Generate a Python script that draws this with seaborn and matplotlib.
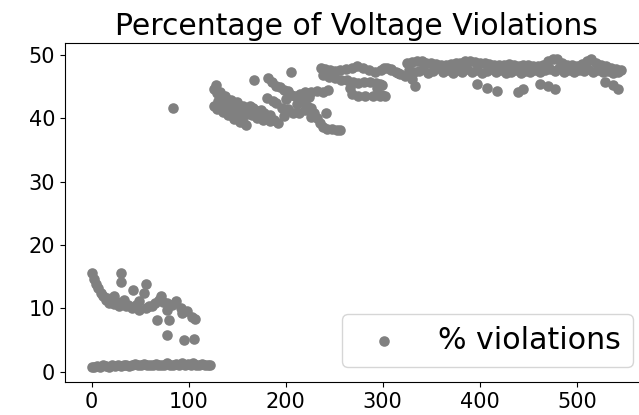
import matplotlib
matplotlib.use("Agg")
import matplotlib.pyplot as plt
import seaborn as sns
import pandas as pd

# ---- data ----
low_x = [0, 3, 6, 9, 12, 15, 18, 21, 24, 27, 30, 33, 36, 39, 42, 45, 48, 51, 54, 57,
         60, 63, 66, 69, 72, 75, 78, 81, 84, 87, 90, 93, 96, 99, 102, 105, 108, 111,
         114, 117, 120, 122]
low_y = [0.7, 0.8, 0.9, 0.8, 1.0, 0.9, 0.8, 1.0, 0.9, 1.1, 0.9, 1.0, 1.1, 0.9, 1.0, 1.2,
         1.0, 1.1, 1.2, 1.0, 1.1, 1.0, 1.2, 1.1, 1.0, 1.1, 1.3, 1.1, 1.0, 1.2, 1.1, 1.3,
         1.1, 1.2, 1.0, 1.3, 1.1, 1.0, 1.2, 1.1, 1.0, 1.1]

early_x = [1, 2.7, 4.4, 6.8, 9.5, 12.3, 14.7, 18.1, 23.3, 28.4, 35.3, 42.1, 49, 55.8,
           62.6, 69.5, 71.2, 78, 86.6, 91.7, 103.7, 107.1, 30.1, 30.8, 43.1, 55.8, 54,
           23.3, 33.6, 49, 67.8, 79.8, 78, 95.2, 105.5, 77.4, 93.4, 38, 46, 59, 65,
           74, 83, 98, 16, 20, 26]
early_y = [15.6, 14.7, 13.9, 13.2, 12.5, 11.9, 11.3, 10.9, 10.7, 10.4, 10.3, 10.0, 9.8,
           10.0, 10.3, 11.3, 11.9, 10.8, 11.2, 10.0, 8.7, 8.3, 15.6, 14.2, 12.9, 13.9,
           12.4, 11.9, 11.3, 11.1, 8.2, 8.1, 5.8, 5.0, 5.1, 9.7, 9.2, 10.5, 10.6, 10.4,
           10.8, 11.0, 10.6, 9.6, 11.6, 11.2, 11.0]

outlier_x = [84.3]
outlier_y = [41.6]

mid_x = [126, 129, 132, 135, 138, 141, 144, 147, 150, 153, 156, 159, 162, 165, 168, 171,
         174, 177, 180, 184, 188, 192,
         126, 129, 132, 135, 138, 141, 144, 147, 150, 153, 156, 159,
         130, 136, 142, 148, 154, 160, 166, 172, 178, 184, 128,
         167, 206, 181,
         182, 186, 190, 194, 198, 202, 206, 210, 214, 218, 222, 226, 229, 232, 235, 238,
         243, 248, 253, 256,
         215, 220, 226, 232, 238, 244,
         190, 196, 202, 208, 214, 220, 226, 242, 198,
         139, 151, 163, 175, 187, 200, 212, 224]
mid_y = [44.6, 44.0, 44.1, 43.4, 43.5, 42.9, 42.9, 42.3, 42.6, 41.9, 42.0, 41.4, 41.4,
         40.6, 40.7, 40.1, 40.3, 39.8, 40.1, 39.6, 39.8, 39.3,
         42.0, 41.5, 41.6, 41.0, 41.2, 40.5, 40.6, 39.9, 40.0, 39.4, 39.5, 38.9,
         42.8, 42.5, 41.6, 41.8, 40.9, 40.7, 41.7, 41.1, 40.9, 40.5, 45.3,
         46.1, 47.4, 43.2,
         46.3, 45.8, 45.1, 45.0, 44.5, 44.3, 43.7, 43.5, 42.9, 42.7, 42.0, 41.7, 40.8,
         40.1, 39.2, 38.7, 38.3, 38.4, 38.1, 38.2,
         43.9, 44.2, 44.1, 44.3, 44.2, 44.5,
         42.5, 41.7, 41.5, 40.9, 40.8, 41.3, 40.2, 40.9, 40.4,
         42.3, 40.8, 42.0, 41.3, 42.8, 43.0, 42.2, 43.3]

right_x = [236, 241, 246, 251, 256, 262, 268, 274, 280, 286, 292, 298, 304, 309, 314, 318,
           239, 245, 251, 257, 263, 269, 275, 281, 287, 293, 299,
           266, 294,
           268, 275, 282, 290, 297, 302,
           301, 309, 316, 323, 330, 333, 297, 299]
right_y = [48.0, 47.8, 47.6, 47.5, 47.6, 47.8, 48.0, 48.2, 48.0, 47.6, 47.3, 47.6, 48.0,
           47.8, 47.4, 47.0,
           46.8, 46.5, 46.3, 46.1, 46.0, 45.8, 45.6, 45.7, 45.8, 45.6, 45.3,
           44.8, 44.8,
           43.8, 43.6, 43.5, 43.5, 43.6, 43.6,
           47.9, 47.6, 47.1, 46.7, 46.2, 45.1, 45.5, 43.7]

top_x = [325, 330, 335, 340, 345, 350, 355, 360, 365, 370, 375, 380, 385, 390, 395, 400,
         405, 410, 415, 420, 425, 430, 435, 440, 445, 450, 455, 460, 465, 470, 475, 480,
         485, 490, 495, 500, 505, 510, 515, 520, 525, 530, 535, 540, 545]
top_y = [48.7, 48.9, 49.1, 49.0, 48.8, 48.7, 48.6, 48.5, 48.4, 48.6, 48.7, 48.8, 49.0,
         49.1, 48.9, 48.8, 48.7, 48.6, 48.5, 48.4, 48.5, 48.6, 48.4, 48.3, 48.4, 48.5,
         48.3, 48.2, 48.4, 49.0, 49.4, 49.3, 48.8, 48.5, 48.4, 48.2, 48.6, 49.0, 49.3,
         48.8, 48.4, 48.2, 48.0, 47.8, 47.6]

band_x = [327, 332, 337, 342, 347, 352, 357, 362, 367, 372, 377, 382, 387, 392, 397, 402,
          407, 412, 417, 422, 427, 432, 437, 442, 447, 452, 457, 462, 467, 472, 477, 482,
          487, 492, 497, 502, 507, 512, 517, 522, 527, 532, 537, 542]
band_y = [47.6, 47.3, 47.5, 47.8, 47.2, 47.5, 47.9, 47.3, 47.6, 47.2, 47.7, 47.4, 47.8,
          47.3, 47.6, 47.2, 47.5, 47.8, 47.3, 47.6, 47.1, 47.4, 47.7, 47.2, 47.5, 47.3,
          47.7, 47.4, 47.6, 47.8, 47.5, 47.9, 47.4, 47.6, 47.3, 47.7, 47.5, 47.8, 47.4,
          47.6, 47.3, 47.5, 47.2, 47.4]

low_out_x = [396.7, 407, 417.3, 439.6, 444.7, 461.9, 470.4, 477.3, 528.7, 537.3, 542.4]
low_out_y = [45.5, 44.8, 44.4, 44.2, 44.6, 45.5, 45.1, 44.6, 45.8, 45.3, 44.6]

xs = low_x + early_x + outlier_x + mid_x + right_x + top_x + band_x + low_out_x
ys = low_y + early_y + outlier_y + mid_y + right_y + top_y + band_y + low_out_y
df = pd.DataFrame({"step": xs, "pct": ys})

# ---- figure ----
fig = plt.figure(figsize=(6.39, 4.15), dpi=100)
ax = fig.add_axes([65 / 639, 1 - 382.3 / 415, 583 / 639, (382.3 - 43) / 415])
sns.scatterplot(data=df, x="step", y="pct", ax=ax, color="grey", s=58,
                linewidth=0, label="% violations")
ax.set_xlim(-27.3, 573.3)
ax.set_ylim(-1.67, 51.9)
ax.set_xticks([0, 100, 200, 300, 400, 500])
ax.set_yticks([0, 10, 20, 30, 40, 50])
ax.set_xlabel("")
ax.set_ylabel("")
ax.tick_params(labelsize=15)
ax.set_title("Percentage of Voltage Violations", fontsize=21.5)
ax.legend(loc="lower right", fontsize=21.6)
fig.savefig("out.png", dpi=100)
